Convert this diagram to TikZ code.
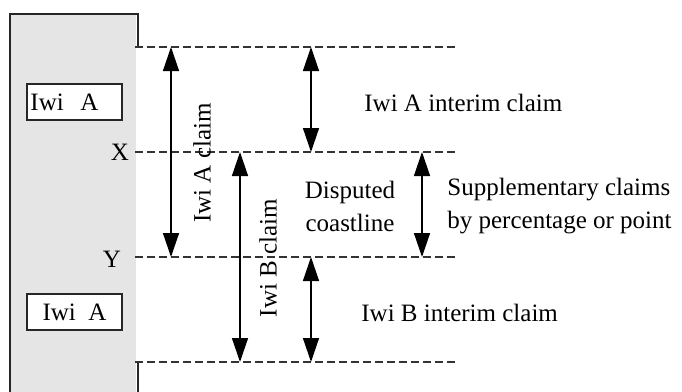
\documentclass[tikz,border=0pt]{standalone}
\usepackage{fontspec}
\setmainfont{Liberation Serif}
\usetikzlibrary{arrows.meta,positioning}
\tikzset{
	level/.style={
		draw=black!80,
		line width=0.7pt,
		dash pattern=on 4pt off 2pt
	},
	span/.style={
		draw=black,
		line width=0.7pt,
		<->,
		>={Triangle[width=8pt,length=12pt]}
	},
	coast/.style={
		draw=black!85,
		line width=0.8pt
	},
	box/.style={
		rectangle,
		draw=black!85,
		line width=0.8pt,
		fill=white,
		minimum width=47.5pt,
		minimum height=18pt
	},
	label/.style={
		inner sep=1pt
	},
}

\begin{document}
\begin{tikzpicture}[x=0.5pt,y=-0.5pt,font=\fontsize{12.5}{16.5}\selectfont]
\useasboundingbox (0,0) rectangle (682,392);
\fill[black!10] (10,14) rectangle (136,392);
\draw[coast] (10,392) |- (138,14) -- (138,47);
\draw[coast] (138,363) -- (138,392);
% levels and arrow ends
\foreach \n/\y in {0/47,1/152,2/257,3/362}{
	\coordinate (l\n) at (135,\y);
	\coordinate (r\n) at (455,\y);
	\draw[level] (l\n) -- (r\n);
	\foreach \c/\x in {a/171,b/240,c/311,d/422}
		\coordinate (\c\n) at (\x,\y);
}
\node[box,align=left,text width=44pt,inner xsep=1pt] (iwiA) at (74.5,102) {Iwi\ \ A};
\node[box] (iwiB) at (74.5,312) {Iwi\ \ A};
\node[label] (x) at (120,152) {X};
\node[label] (y) at (112,259) {Y};
\draw[span] (a0) -- (a2);
\draw[span] (b1) -- (b3);
\draw[span] (c0) -- (c1);
\draw[span] (d1) -- (d2);
\draw[span] (c2) -- (c3);
\node[label,rotate=90] (aclaim) at (202,163) {Iwi A claim};
\node[label,rotate=90] (bclaim) at (268,258) {Iwi B claim};
\node[label,anchor=west] (ainterim) at (362,103) {Iwi A interim claim};
\node[label,align=center] (disputed) at (350,206) {Disputed\\coastline};
\node[label,anchor=west,align=left] (supp) at (445,206) {Supplementary claims\\by percentage or point};
\node[label,anchor=west] (binterim) at (359,313) {Iwi B interim claim};
\end{tikzpicture}
\end{document}
